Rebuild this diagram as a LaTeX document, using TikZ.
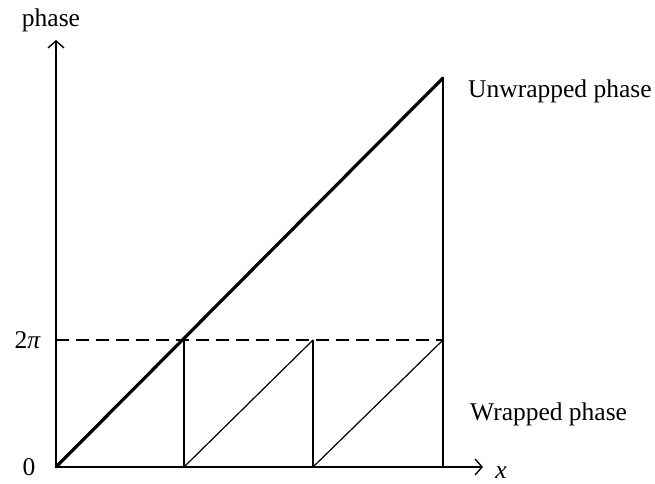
\documentclass[tikz,border=0pt]{standalone}
\usepackage{fontspec}
\setmainfont{Liberation Serif}
\usetikzlibrary{arrows.meta}
\begin{document}
\begin{tikzpicture}[x=1pt,y=1pt,
  lbl/.style={inner sep=0pt,font=\fontsize{25.5}{30}\selectfont},
  axis/.style={line width=1.4pt,-{Straight Barb[length=7pt,width=16pt,line width=1.4pt]}},
  thin/.style={line width=1.2pt},
  thickln/.style={line width=3.2pt,line cap=round},
  dashln/.style={line width=1.3pt,dash pattern=on 13pt off 7pt}]
\useasboundingbox (0,0) rectangle (655,483);
\coordinate (O) at (56,16);
\coordinate (ytop) at (56,443);
\coordinate (xend) at (483,16);
\coordinate (y2pi) at (56,143);
\coordinate (a) at (184,143);
\coordinate (a0) at (184,16);
\coordinate (b) at (313,143);
\coordinate (b0) at (313,16);
\coordinate (c) at (443,143);
\coordinate (c0) at (443,16);
\coordinate (top) at (443,405);
% dashed 2pi level
\draw[dashln] (y2pi) -- (c);
% wrapped phase
\draw[thin] (a0) -- (a);
\draw[thin] (a0) -- (b);
\draw[thin] (b0) -- (b);
\draw[thin] (b0) -- (c);
\draw[thin] (c0) -- (top);
% unwrapped phase
\draw[thickln] (O) -- (top);
% axes
\draw[axis] (O) -- (ytop);
\draw[axis] (O) -- (xend);
% labels
\node[lbl,anchor=base] (lphase) at (51,456) {phase};
\node[lbl,anchor=east] (l2pi) at (41,143) {2\textit{π}};
\node[lbl] (l0) at (29,16) {0};
\node[lbl,anchor=base] (lx) at (501,5) {\textit{x}};
\node[lbl,anchor=base west] (lun) at (468,385) {Unwrapped phase};
\node[lbl,anchor=base west] (lw) at (470,63) {Wrapped phase};
\end{tikzpicture}
\end{document}
